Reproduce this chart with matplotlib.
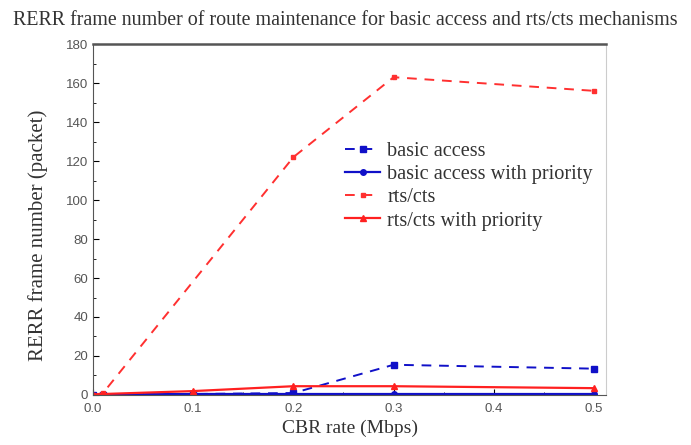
import matplotlib.pyplot as plt
from matplotlib.ticker import MultipleLocator, AutoMinorLocator, FormatStrFormatter

# CBR rate (Mbps)
rate = [0.0, 0.01, 0.1, 0.2, 0.3, 0.5]

basic = [0.0, 0.0, 0.5, 1.0, 15.5, 13.5]
basic_pri = [0.0, 0.3, 0.5, 0.5, 0.5, 0.5]
rts_pri = [0.0, 0.5, 2.0, 4.5, 4.5, 3.5]

# rts/cts has no point at 0.1
rts_x = [0.0, 0.01, 0.2, 0.3, 0.5]
rts_y = [0.0, 1.0, 122.0, 163.0, 156.0]

serif = 'Liberation Serif'
sans = 'Liberation Sans'

fig = plt.figure(figsize=(6.91, 4.45), dpi=100)
ax = fig.add_axes([0.1346, 0.1124, 0.7424, 0.7886])

ax.plot(rate, basic, color='#1010c8', linestyle=(0, (5, 4)), linewidth=1.4,
        marker='s', markersize=4, label='basic access')
ax.plot(rate, basic_pri, color='#1010c8', linestyle='-', linewidth=1.6,
        marker='o', markersize=4, label='basic access with priority')
ax.plot(rts_x, rts_y, color='#ff3030', linestyle=(0, (5, 4)), linewidth=1.4,
        marker='s', markersize=3.5, label='rts/cts')
ax.plot(rate, rts_pri, color='#ff2020', linestyle='-', linewidth=1.6,
        marker='^', markersize=4, label='rts/cts with priority')

ax.set_xlim(0, 0.512)
ax.set_ylim(0, 180)
ax.xaxis.set_major_locator(MultipleLocator(0.1))
ax.xaxis.set_major_formatter(FormatStrFormatter('%.1f'))
ax.yaxis.set_major_locator(MultipleLocator(20))
ax.xaxis.set_minor_locator(MultipleLocator(0.05))
ax.yaxis.set_minor_locator(AutoMinorLocator(2))
ax.tick_params(which='both', direction='in', top=False, right=False)
ax.tick_params(which='major', length=4, labelsize=9.5, labelcolor='#555555')
ax.tick_params(axis='x', which='major', pad=6)
ax.tick_params(which='minor', length=2)
for lab in ax.get_xticklabels() + ax.get_yticklabels():
    lab.set_family(sans)

for s in ax.spines.values():
    s.set_color('#555555')
ax.spines['top'].set_linewidth(1.8)
ax.spines['right'].set_color('#cccccc')

ax.set_xlabel('CBR rate (Mbps)', family=serif, fontsize=14, color='#333333', labelpad=3)
ax.set_ylabel('RERR frame number (packet)', family=serif, fontsize=15, color='#333333')
ax.yaxis.set_label_coords(-0.088, 0.456)

fig.text(0.019, 0.955, 'RERR frame number of route maintenance for basic access and rts/cts mechanisms',
         family=serif, fontsize=14.4, color='#333333', ha='left', va='center')

leg = ax.legend(loc='upper left', bbox_to_anchor=(0.491, 0.722), frameon=False,
                prop={'family': serif, 'size': 14.6}, handlelength=1.75,
                handletextpad=0.33, labelspacing=0.2, borderpad=0, borderaxespad=0)
for t in leg.get_texts():
    t.set_color('#333333')

fig.savefig('out.png', dpi=100)
